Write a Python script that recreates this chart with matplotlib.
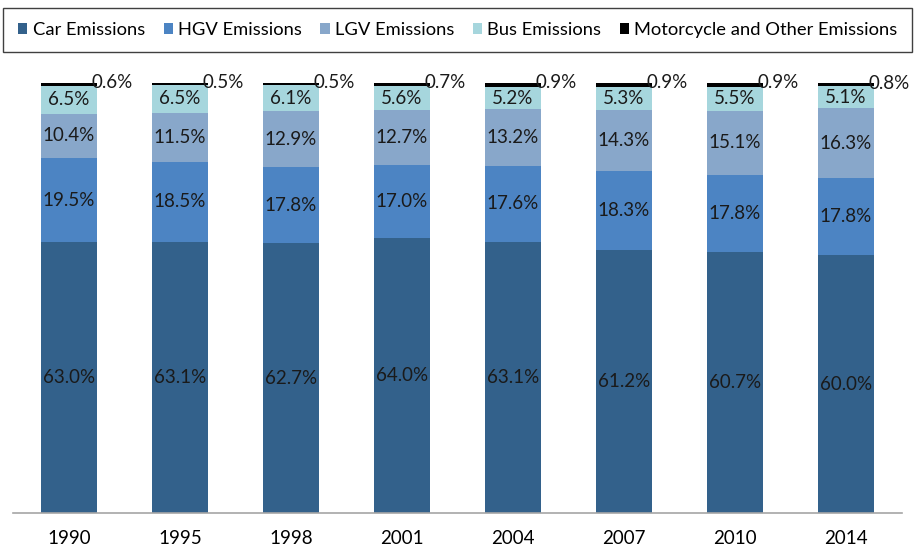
import matplotlib
matplotlib.use("Agg")
import matplotlib.pyplot as plt
from matplotlib.patches import Rectangle, Patch
import numpy as np

plt.rcParams["font.family"] = ["Lato", "DejaVu Sans"]

# ── Data ──────────────────────────────────────────────────────────────────────
years = ["1990", "1995", "1998", "2001", "2004", "2007", "2010", "2014"]
car   = [63.0, 63.1, 62.7, 64.0, 63.1, 61.2, 60.7, 60.0]
hgv   = [19.5, 18.5, 17.8, 17.0, 17.6, 18.3, 17.8, 17.8]
lgv   = [10.4, 11.5, 12.9, 12.7, 13.2, 14.3, 15.1, 16.3]
bus   = [6.5, 6.5, 6.1, 5.6, 5.2, 5.3, 5.5, 5.1]
moto  = [0.6, 0.5, 0.5, 0.7, 0.9, 0.9, 0.9, 0.8]

series = [
    ("Car Emissions", car, "#33618b"),
    ("HGV Emissions", hgv, "#4c84c3"),
    ("LGV Emissions", lgv, "#88a7ca"),
    ("Bus Emissions", bus, "#a6d6dd"),
    ("Motorcycle and Other Emissions", moto, "#000000"),
]

W, H = 915, 548
fig = plt.figure(figsize=(W / 100, H / 100), dpi=100)
ax = fig.add_axes([13.5 / W, (H - 513) / H, (901.5 - 13.5) / W, (513 - 83) / H])

x = np.arange(len(years))
bottom = np.zeros(len(years))
for name, vals, col in series:
    vals = np.array(vals)
    ax.bar(x, vals, width=0.51, bottom=bottom, color=col, label=name, zorder=2)
    if name.startswith("Motorcycle"):
        for xi, b, v in zip(x, bottom, vals):
            ax.annotate(f"{v:.1f}%", xy=(xi + 0.255, b + v), xytext=(-4, 0),
                        textcoords="offset points", ha="left", va="center",
                        fontsize=13.5, color="#1a1a1a", annotation_clip=False)
    else:
        for xi, b, v in zip(x, bottom, vals):
            ax.text(xi, b + v / 2, f"{v:.1f}%", ha="center", va="center",
                    fontsize=13.5, color="#1a1a1a")
    bottom += vals

ax.set_xlim(-0.5, 7.5)
ax.set_ylim(0, 100)
ax.set_xticks(x)
ax.set_xticklabels(years, fontsize=13.5)
ax.tick_params(axis="x", length=0, pad=12)
ax.set_yticks([])
for s in ("top", "left", "right"):
    ax.spines[s].set_visible(False)
ax.spines["bottom"].set_color("#a6a6a6")
ax.spines["bottom"].set_linewidth(1.2)

# Legend box at top
fig.patches.append(Rectangle((3 / W, (H - 52) / H), 909 / W, 44 / H,
                             transform=fig.transFigure, fill=False,
                             edgecolor="#404040", linewidth=1.0))
handles = [Patch(facecolor=c, edgecolor="none", label=n) for n, _, c in series]
fig.legend(handles=handles, loc="center", bbox_to_anchor=(458 / W, (H - 30) / H),
           ncol=5, frameon=False, fontsize=13.2, handlelength=0.5,
           handleheight=0.5, handletextpad=0.3, columnspacing=1.0)

fig.savefig("out.png", dpi=100)
